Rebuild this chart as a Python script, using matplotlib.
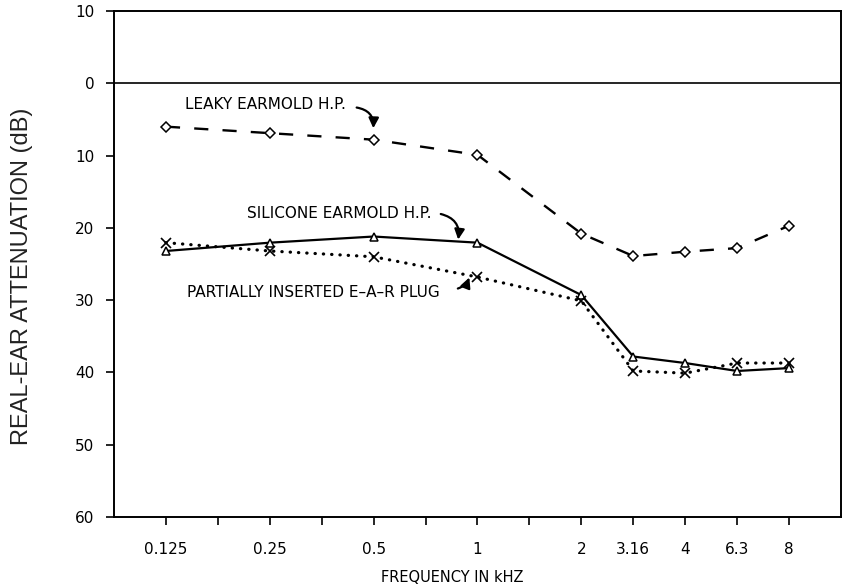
import matplotlib
matplotlib.use("Agg")
import matplotlib.pyplot as plt
from matplotlib.ticker import FuncFormatter, FixedLocator

freq_labels = ["0.125", "0.25", "0.5", "1", "2", "3.16", "4", "6.3", "8"]
freq_pos = [1, 3, 5, 7, 9, 10, 11, 12, 13]
minor_pos = [2, 4, 6, 8]

leaky = [6.0, 6.9, 7.8, 9.9, 20.8, 23.9, 23.3, 22.8, 19.7]
silicone = [23.2, 22.05, 21.2, 22.05, 29.3, 37.8, 38.7, 39.8, 39.4]
ear_plug = [22.05, 23.2, 24.0, 26.8, 30.1, 39.8, 40.1, 38.7, 38.7]

y_ticks = [-10, 0, 10, 20, 30, 40, 50, 60]

fig = plt.figure(figsize=(8.44, 5.87), dpi=100)
ax = fig.add_axes([114/844, 1-517/587, (841-114)/844, (517-11)/587])

ax.plot(freq_pos, leaky, color="black", lw=1.7, dashes=(6, 6),
        marker="D", ms=5, mfc="white", mec="black", mew=1.1)
ax.plot(freq_pos, silicone, color="black", lw=1.6, ls="-",
        marker="^", ms=6, mfc="white", mec="black", mew=1.1)
ax.plot(freq_pos, ear_plug, color="black", lw=2.3, dashes=(0.1, 2.5),
        dash_capstyle="round", marker="x", ms=7, mec="black", mew=1.2)

ax.axhline(0, color="black", lw=1.2)

ax.set_xlim(0, 14)
ax.set_ylim(60, -10)
ax.xaxis.set_major_locator(FixedLocator(freq_pos))
ax.set_xticklabels(freq_labels)
ax.xaxis.set_minor_locator(FixedLocator(minor_pos))
ax.set_yticks(y_ticks)
ax.yaxis.set_major_formatter(FuncFormatter(lambda v, p: f"{abs(int(v))}"))

ax.tick_params(axis="both", which="both", direction="out", length=6, width=1.2,
               labelsize=11, colors="black")
ax.tick_params(axis="x", pad=12)
ax.tick_params(axis="y", pad=8)
for s in ax.spines.values():
    s.set_linewidth(1.4)

fs = 11
ax.text(1.37, 2.9, "LEAKY EARMOLD H.P.", fontsize=fs, va="center", ha="left")
ax.text(2.56, 18.0, "SILICONE EARMOLD H.P.", fontsize=fs, va="center", ha="left")
ax.text(1.41, 29.0, "PARTIALLY INSERTED E\u2013A\u2013R PLUG", fontsize=fs, va="center", ha="left")

arrowprops = dict(arrowstyle="-|>", color="black", lw=1.6, mutation_scale=15)
ax.annotate("", xy=(4.99, 6.6), xytext=(4.62, 3.3),
            arrowprops=dict(arrowprops, connectionstyle="arc3,rad=-0.5"))
ax.annotate("", xy=(6.62, 22.0), xytext=(6.24, 18.0),
            arrowprops=dict(arrowprops, connectionstyle="arc3,rad=-0.5"))
ax.annotate("", xy=(6.86, 26.5), xytext=(6.57, 28.5),
            arrowprops=dict(arrowprops, connectionstyle="arc3,rad=0.3"))

fig.text(452/844, 1-577/587, "FREQUENCY IN kHZ", fontsize=10.5, ha="center", va="center")
fig.text(22/844, 1-276/587, "REAL-EAR ATTENUATION (dB)", fontsize=17, rotation=90,
         ha="center", va="center", family="Liberation Sans", color="#222222")

fig.savefig("out.png", dpi=100)
